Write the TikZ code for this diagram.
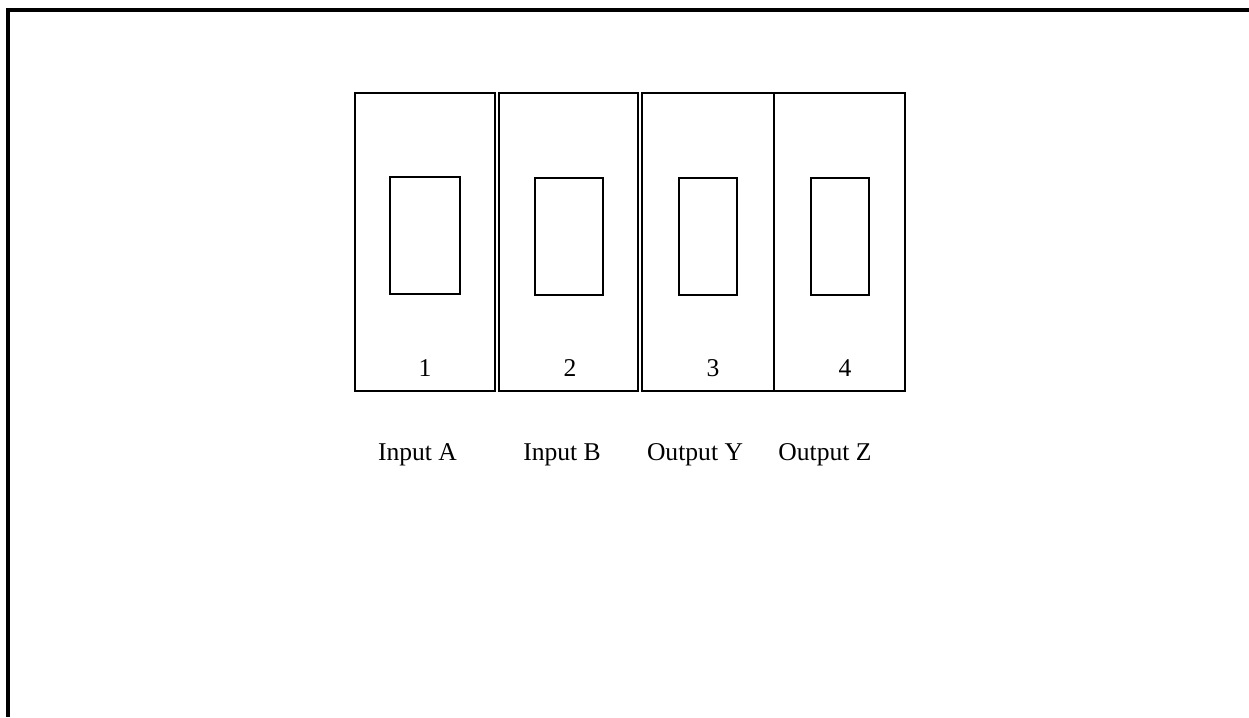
\documentclass[tikz,border=0pt]{standalone}
\usepackage{fontspec}
\setmainfont{Liberation Serif}
\begin{document}
\begin{tikzpicture}[x=1pt,y=-1pt,
  outer/.style={draw,line width=2pt,minimum width=#1,minimum height=298pt,inner sep=0pt},
  inner/.style={draw,line width=2pt,minimum width=#1,minimum height=117pt,inner sep=0pt},
  num/.style={anchor=base,inner sep=0pt,font=\fontsize{25.6}{30}\selectfont},
  lbl/.style={anchor=base,inner sep=0pt,font=\fontsize{25.6}{30}\selectfont}]
\useasboundingbox (0,0) rectangle (1249,717);
\coordinate (fa) at (8,717);
\coordinate (fb) at (8,10);
\coordinate (fc) at (1249,10);
\draw[line width=4pt] (fa) -- (fb) -- (fc);
\node[outer=140pt] (b1) at (425,242) {};
\node[outer=139pt] (b2) at (568.5,242) {};
\node[outer=132pt] (b3) at (708,242) {};
\node[outer=131pt] (b4) at (839.5,242) {};
\node[inner=70pt] (i1) at (425,235.5) {};
\node[inner=68pt] (i2) at (569,236) {};
\node[inner=58pt] (i3) at (708,236) {};
\node[inner=58pt] (i4) at (840,236) {};
\node[num] (n1) at (425,376) {1};
\node[num] (n2) at (570,376) {2};
\node[num] (n3) at (713,376) {3};
\node[num] (n4) at (845,376) {4};
\node[lbl] (l1) at (417.5,460) {Input A};
\node[lbl] (l2) at (562,460) {Input B};
\node[lbl] (l3) at (695,460) {Output Y};
\node[lbl] (l4) at (825,460) {Output Z};
\end{tikzpicture}
\end{document}
